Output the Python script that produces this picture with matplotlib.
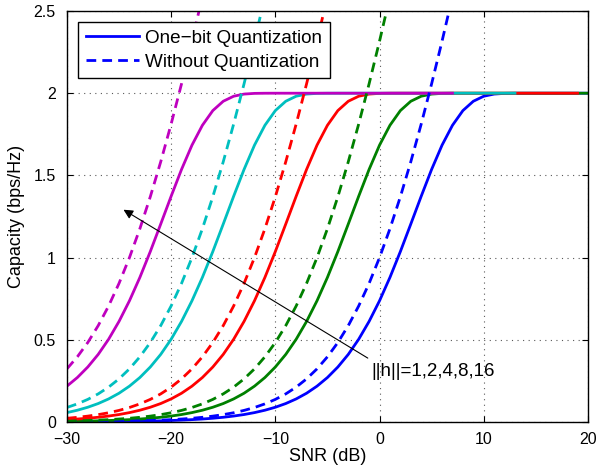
import matplotlib
matplotlib.use('Agg')
import matplotlib.pyplot as plt

plt.rcParams['font.family'] = ['Liberation Sans', 'DejaVu Sans']

# one-bit quantization (solid), ||h|| = 1, 2, 4, 8, 16
snr_h1 = list(range(-30, 21))
cap_1bit_h1 = [0.0009, 0.0012, 0.0015, 0.0018, 0.0023, 0.0029, 0.0037, 0.0046, 0.0058, 0.0073,
               0.0092, 0.0115, 0.0145, 0.0182, 0.0229, 0.0288, 0.0362, 0.0455, 0.0572, 0.0717,
               0.0898, 0.1123, 0.1404, 0.1751, 0.2181, 0.2706, 0.3345, 0.4112, 0.5034, 0.6120,
               0.7374, 0.8796, 1.0368, 1.2040, 1.3732, 1.5366, 1.6840, 1.8048, 1.8942, 1.9510,
               1.9816, 1.9947, 1.9989, 1.9998, 2.0, 2.0, 2.0, 2.0, 2.0, 2.0, 2.0]
snr_h2 = list(range(-30, 21))
cap_1bit_h2 = [0.0037, 0.0046, 0.0058, 0.0073, 0.0092, 0.0115, 0.0145, 0.0182, 0.0229, 0.0288,
               0.0362, 0.0455, 0.0572, 0.0717, 0.0898, 0.1123, 0.1404, 0.1751, 0.2181, 0.2706,
               0.3345, 0.4112, 0.5034, 0.6120, 0.7374, 0.8796, 1.0368, 1.2040, 1.3732, 1.5366,
               1.6840, 1.8048, 1.8942, 1.9510, 1.9816, 1.9947, 1.9989, 1.9998, 2.0, 2.0,
               2.0, 2.0, 2.0, 2.0, 2.0, 2.0, 2.0, 2.0, 2.0, 2.0, 2.0]
snr_h4 = list(range(-30, 20))
cap_1bit_h4 = [0.0145, 0.0182, 0.0229, 0.0288, 0.0362, 0.0455, 0.0572, 0.0717, 0.0898, 0.1123,
               0.1404, 0.1751, 0.2181, 0.2706, 0.3345, 0.4112, 0.5034, 0.6120, 0.7374, 0.8796,
               1.0368, 1.2040, 1.3732, 1.5366, 1.6840, 1.8048, 1.8942, 1.9510, 1.9816, 1.9947,
               1.9989, 1.9998, 2.0, 2.0, 2.0, 2.0, 2.0, 2.0, 2.0, 2.0,
               2.0, 2.0, 2.0, 2.0, 2.0, 2.0, 2.0, 2.0, 2.0, 2.0]
snr_h8 = list(range(-30, 14))
cap_1bit_h8 = [0.0572, 0.0717, 0.0898, 0.1123, 0.1404, 0.1751, 0.2181, 0.2706, 0.3345, 0.4112,
               0.5034, 0.6120, 0.7374, 0.8796, 1.0368, 1.2040, 1.3732, 1.5366, 1.6840, 1.8048,
               1.8942, 1.9510, 1.9816, 1.9947, 1.9989, 1.9998, 2.0, 2.0, 2.0, 2.0,
               2.0, 2.0, 2.0, 2.0, 2.0, 2.0, 2.0, 2.0, 2.0, 2.0, 2.0, 2.0, 2.0, 2.0]
snr_h16 = list(range(-30, 8))
cap_1bit_h16 = [0.2181, 0.2706, 0.3345, 0.4112, 0.5034, 0.6120, 0.7374, 0.8796, 1.0368, 1.2040,
                1.3732, 1.5366, 1.6840, 1.8048, 1.8942, 1.9510, 1.9816, 1.9947, 1.9989, 1.9998,
                2.0, 2.0, 2.0, 2.0, 2.0, 2.0, 2.0, 2.0, 2.0, 2.0,
                2.0, 2.0, 2.0, 2.0, 2.0, 2.0, 2.0, 2.0]

# without quantization (dashed)
snr_u1 = list(range(-30, 8))
cap_full_h1 = [0.0014, 0.0018, 0.0023, 0.0029, 0.0036, 0.0046, 0.0057, 0.0072, 0.0091, 0.0114,
               0.0144, 0.0181, 0.0227, 0.0285, 0.0358, 0.0449, 0.0563, 0.0706, 0.0883, 0.1103,
               0.1375, 0.1710, 0.2122, 0.2624, 0.3233, 0.3966, 0.4835, 0.5862, 0.7058, 0.8434,
               1.0000, 1.1757, 1.3702, 1.5827, 1.8124, 2.0574, 2.3165, 2.5880]
snr_u2 = list(range(-30, 2))
cap_full_h2 = [0.0057, 0.0072, 0.0091, 0.0114, 0.0144, 0.0181, 0.0227, 0.0285, 0.0358, 0.0449,
               0.0563, 0.0706, 0.0883, 0.1103, 0.1375, 0.1710, 0.2122, 0.2624, 0.3233, 0.3966,
               0.4835, 0.5862, 0.7058, 0.8434, 1.0000, 1.1757, 1.3702, 1.5827, 1.8124, 2.0574,
               2.3165, 2.5880]
snr_u4 = list(range(-30, -4))
cap_full_h4 = [0.0227, 0.0285, 0.0358, 0.0449, 0.0563, 0.0706, 0.0883, 0.1103, 0.1375, 0.1710,
               0.2122, 0.2624, 0.3233, 0.3966, 0.4835, 0.5862, 0.7058, 0.8434, 1.0000, 1.1757,
               1.3702, 1.5827, 1.8124, 2.0574, 2.3165, 2.5880]
snr_u8 = list(range(-30, -10))
cap_full_h8 = [0.0883, 0.1103, 0.1375, 0.1710, 0.2122, 0.2624, 0.3233, 0.3966, 0.4835, 0.5862,
               0.7058, 0.8434, 1.0000, 1.1757, 1.3702, 1.5827, 1.8124, 2.0574, 2.3165, 2.5880]
snr_u16 = list(range(-30, -16))
cap_full_h16 = [0.3233, 0.3966, 0.4835, 0.5862, 0.7058, 0.8434, 1.0000, 1.1757, 1.3702, 1.5827,
                1.8124, 2.0574, 2.3165, 2.5880]

colors = ['#0000ff', '#008000', '#ff0000', '#00bfbf', '#bf00bf']

fig = plt.figure(figsize=(6.03, 4.66), dpi=100)
ax = fig.add_axes([0.111, 0.0944, 0.864, 0.882])

solid = [(snr_h1, cap_1bit_h1), (snr_h2, cap_1bit_h2), (snr_h4, cap_1bit_h4),
         (snr_h8, cap_1bit_h8), (snr_h16, cap_1bit_h16)]
dashed = [(snr_u1, cap_full_h1), (snr_u2, cap_full_h2), (snr_u4, cap_full_h4),
          (snr_u8, cap_full_h8), (snr_u16, cap_full_h16)]

for (x, y), c in zip(solid, colors):
    ax.plot(x, y, '-', color=c, lw=2.0)
for (x, y), c in zip(dashed, colors):
    ax.plot(x, y, '--', color=c, lw=2.0, dashes=(3.5, 2.2))

# legend entries
ax.plot([], [], '-', color='#0000ff', lw=2.0, label='One\u2212bit Quantization')
ax.plot([], [], '--', color='#0000ff', lw=2.0, dashes=(3.5, 2.2), label='Without Quantization')
leg = ax.legend(handles=ax.lines[-2:], loc='upper left', fontsize=13.6, fancybox=False,
                framealpha=1, edgecolor='k', borderaxespad=0.6, handlelength=2.8,
                handletextpad=0.35, borderpad=0.4, labelspacing=0.35)
leg.get_frame().set_linewidth(1.0)

ax.set_xlim(-30, 20)
ax.set_ylim(0, 2.5)
ax.set_xticks([-30, -20, -10, 0, 10, 20])
ax.set_yticks([0, 0.5, 1, 1.5, 2, 2.5])
ax.set_yticklabels(['0', '0.5', '1', '1.5', '2', '2.5'])
ax.tick_params(direction='in', top=True, right=True, labelsize=11.5, length=4)
ax.tick_params(axis='x', pad=7)
ax.tick_params(axis='y', pad=8)
ax.grid(True, color='0.35', linestyle=(0, (1, 4)), linewidth=0.8)
for s in ax.spines.values():
    s.set_linewidth(1.0)

ax.set_xlabel('SNR (dB)', fontsize=13, labelpad=1)
ax.set_ylabel('Capacity (bps/Hz)', fontsize=13, labelpad=6)

ax.annotate('', xy=(-24.8, 1.30), xytext=(-0.9, 0.38),
            arrowprops=dict(arrowstyle='-|>', color='k', lw=0.8, mutation_scale=14))
ax.text(-0.75, 0.305, '||h||=1,2,4,8,16', fontsize=13.5, va='center', ha='left')

fig.savefig('out.png', dpi=100)
